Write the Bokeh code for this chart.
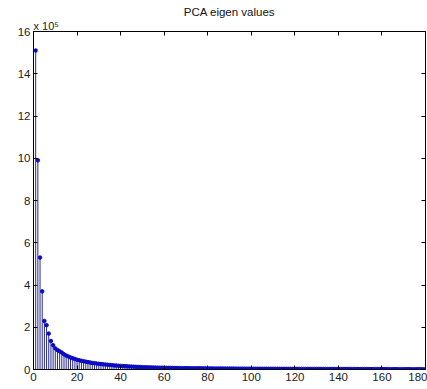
from bokeh.plotting import figure
from bokeh.models import LinearAxis, Range1d, Title, FixedTicker, ColumnDataSource
from bokeh.embed import file_html
from bokeh.resources import INLINE

title_text = "PCA eigen values"
scale_text = "x 10\u2075"
x_ticks = [0, 20, 40, 60, 80, 100, 120, 140, 160, 180]
y_ticks = [0, 2, 4, 6, 8, 10, 12, 14, 16]

# eigenvalues in units of 10^5
eigen_values = [
    15.1, 9.9, 5.3, 3.7, 2.3, 2.1, 1.7, 1.35, 1.15, 1.0,
    0.92, 0.86, 0.80, 0.72, 0.66, 0.62, 0.57, 0.53, 0.50, 0.46,
    0.44, 0.41, 0.39, 0.37, 0.35, 0.33, 0.31, 0.30, 0.28, 0.27,
    0.26, 0.245, 0.235, 0.225, 0.215, 0.205, 0.195, 0.185, 0.178, 0.17,
    0.163, 0.156, 0.15, 0.144, 0.138, 0.132, 0.127, 0.122, 0.117, 0.112,
    0.108, 0.104, 0.100, 0.097, 0.094, 0.091, 0.088, 0.085, 0.083, 0.081,
    0.079, 0.077, 0.075, 0.073, 0.071, 0.069, 0.067, 0.065, 0.064, 0.063,
    0.062, 0.061, 0.060, 0.059, 0.058, 0.057, 0.056, 0.055, 0.054, 0.053,
    0.050, 0.049, 0.048, 0.047, 0.047, 0.046, 0.045, 0.044, 0.044, 0.043,
    0.042, 0.042, 0.041, 0.040, 0.040, 0.039, 0.039, 0.038, 0.037, 0.037,
    0.036, 0.036, 0.035, 0.035, 0.034, 0.034, 0.034, 0.033, 0.033, 0.033,
    0.032, 0.032, 0.032, 0.031, 0.031, 0.031, 0.031, 0.030, 0.030, 0.030,
    0.030, 0.029, 0.029, 0.029, 0.028, 0.028, 0.028, 0.028, 0.027, 0.027,
    0.027, 0.026, 0.026, 0.026, 0.026, 0.025, 0.025, 0.025, 0.024, 0.024,
    0.024, 0.024, 0.023, 0.023, 0.023, 0.022, 0.022, 0.022, 0.022, 0.021,
    0.021, 0.021, 0.020, 0.020, 0.020, 0.020, 0.019, 0.019, 0.019, 0.018,
    0.018, 0.018, 0.018, 0.017, 0.017, 0.017, 0.016, 0.016, 0.016, 0.016,
    0.015, 0.015, 0.015, 0.014, 0.014, 0.014, 0.013, 0.013, 0.012, 0.012,
]
component = list(range(1, len(eigen_values) + 1))

FONT = "Liberation Sans"
STEM_COLOR = "#2a2a8c"
DOT_COLOR = "#0a0ac8"

src = ColumnDataSource(data=dict(x=component, y=eigen_values))

p = figure(frame_width=392, frame_height=338,
           x_range=Range1d(0, 180), y_range=Range1d(0, 16),
           output_backend="svg", toolbar_location=None,
           title=title_text,
           min_border_left=33, min_border_top=31,
           min_border_right=2, min_border_bottom=20)
p.grid.visible = False
p.outline_line_color = "black"
p.background_fill_color = "white"
p.border_fill_color = "white"
p.title.align = "center"
p.title.text_font = FONT
p.title.text_font_size = "11.5px"
p.title.text_font_style = "normal"
p.title.text_color = "#111111"
p.title.standoff = 0

def style_axis(ax, ticks, labels=True):
    ax.ticker = FixedTicker(ticks=ticks)
    ax.major_tick_in = 4
    ax.major_tick_out = 0
    ax.minor_tick_line_color = None
    ax.axis_line_color = "black"
    ax.major_tick_line_color = "black"
    if labels:
        ax.major_label_text_font = FONT
        ax.major_label_text_font_size = "11.5px"
        ax.major_label_text_color = "#222222"
        ax.major_label_standoff = 3
    else:
        ax.major_label_text_font_size = "1px"
        ax.major_label_text_color = None
        ax.major_label_standoff = 0

style_axis(p.xaxis[0], x_ticks)
style_axis(p.yaxis[0], y_ticks)
top = LinearAxis()
style_axis(top, x_ticks, labels=False)
p.add_layout(top, "above")
right = LinearAxis()
style_axis(right, y_ticks, labels=False)
p.add_layout(right, "right")

p.segment(x0="x", y0=0, x1="x", y1="y", source=src, line_color=STEM_COLOR, line_width=1)
p.scatter("x", "y", source=src, size=3.5, color=DOT_COLOR)

scale_title = Title(text=scale_text, align="left", text_font=FONT,
                    text_font_size="11px", text_font_style="normal",
                    text_color="#222222", standoff=0, text_line_height=0.3)
p.add_layout(scale_title, "above")

open("out.html", "w").write(file_html(p, INLINE))
